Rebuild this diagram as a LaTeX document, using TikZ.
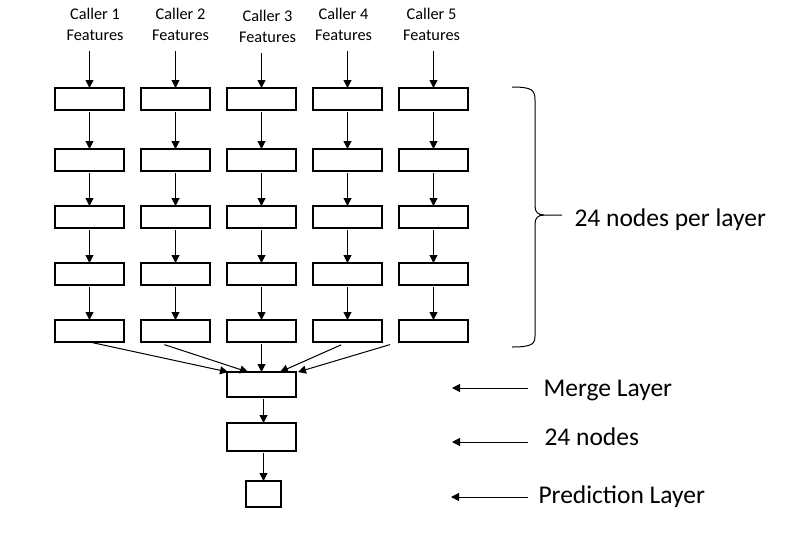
\documentclass[tikz,border=0pt]{standalone}
\usepackage{fontspec}
\setmainfont{Carlito}
\usetikzlibrary{positioning,arrows.meta}
\tikzset{
  unit/.style={draw,line width=1.2pt,minimum width=69pt,minimum height=22pt,inner sep=0pt,outer sep=0pt},
  feat/.style={align=center,font=\fontsize{16.3}{21}\selectfont,inner xsep=0pt,inner ysep=8pt},
  note/.style={font=\fontsize{25.5}{30}\selectfont,inner sep=0pt,anchor=base west},
  >={Triangle[length=8pt,width=8pt]},
}

\begin{document}
\begin{tikzpicture}[
  x=1pt,y=-1pt,
  ->,line width=1pt,shorten <=2pt,
  node distance=35pt and 17pt
]
\useasboundingbox (0,0) rectangle (812,550);

% five caller columns
\node[unit] (c1r1) at (89.5,99) {};
\node[unit,right=of c1r1] (c2r1) {};
\node[unit,right=of c2r1] (c3r1) {};
\node[unit,right=of c3r1] (c4r1) {};
\node[unit,right=of c4r1] (c5r1) {};

\node[unit,below=39pt of c1r1] (c1r2) {};
\node[unit,below=39pt of c2r1] (c2r2) {};
\node[unit,below=39pt of c3r1] (c3r2) {};
\node[unit,below=39pt of c4r1] (c4r2) {};
\node[unit,below=39pt of c5r1] (c5r2) {};

\node[unit,below=of c1r2] (c1r3) {};
\node[unit,below=of c2r2] (c2r3) {};
\node[unit,below=of c3r2] (c3r3) {};
\node[unit,below=of c4r2] (c4r3) {};
\node[unit,below=of c5r2] (c5r3) {};

\node[unit,below=of c1r3] (c1r4) {};
\node[unit,below=of c2r3] (c2r4) {};
\node[unit,below=of c3r3] (c3r4) {};
\node[unit,below=of c4r3] (c4r4) {};
\node[unit,below=of c5r3] (c5r4) {};

\node[unit,below=of c1r4] (c1r5) {};
\node[unit,below=of c2r4] (c2r5) {};
\node[unit,below=of c3r4] (c3r5) {};
\node[unit,below=of c4r4] (c4r5) {};
\node[unit,below=of c5r4] (c5r5) {};

\node[feat,above=39pt of c1r1,xshift=5.5pt] (f1) {Caller 1\\Features};
\node[feat,above=39pt of c2r1,xshift=5pt] (f2) {Caller 2\\Features};
\node[feat,above=39pt of c3r1,xshift=6pt,yshift=-2pt] (f3) {Caller 3\\Features};
\node[feat,above=39pt of c4r1,xshift=-4pt] (f4) {Caller 4\\Features};
\node[feat,above=39pt of c5r1,xshift=-2pt] (f5) {Caller 5\\Features};

% merge and output
\node[unit,minimum height=25pt,below=30pt of c3r5] (merge) {};
\node[unit,minimum height=28pt,below=26pt of merge] (hidden) {};
\node[unit,minimum width=35pt,minimum height=26pt,below=30pt of hidden,xshift=2pt] (pred) {};

\path
(f1.south -| c1r1) edge (c1r1)
(f2.south -| c2r1) edge (c2r1)
(f3.south -| c3r1) edge (c3r1)
(f4.south -| c4r1) edge (c4r1)
(f5.south -| c5r1) edge (c5r1)

(c1r1) edge (c1r2) (c1r2) edge (c1r3) (c1r3) edge (c1r4) (c1r4) edge (c1r5)
(c2r1) edge (c2r2) (c2r2) edge (c2r3) (c2r3) edge (c2r4) (c2r4) edge (c2r5)
(c3r1) edge (c3r2) (c3r2) edge (c3r3) (c3r3) edge (c3r4) (c3r4) edge (c3r5)
(c4r1) edge (c4r2) (c4r2) edge (c4r3) (c4r3) edge (c4r4) (c4r4) edge (c4r5)
(c5r1) edge (c5r2) (c5r2) edge (c5r3) (c5r3) edge (c5r4) (c5r4) edge (c5r5)

(c1r5.south) edge ([xshift=1pt]merge.north west)
([xshift=-13pt,yshift=-2pt]c2r5.south) edge ([xshift=-13.5pt]merge.north)
(c3r5) edge (merge)
([xshift=-4.5pt,yshift=-2pt]c4r5.south) edge ([xshift=18.5pt]merge.north)
([xshift=-41.5pt,yshift=-2pt]c5r5.south) edge ([xshift=2pt]merge.north east)

(merge.south -| pred) edge (hidden.north -| pred)
(hidden.south -| pred) edge (pred);

% brace and side notes
\draw[-,shorten <=0pt] (512,87) .. controls (532,87) and (535,90) .. (535,100) -- (535,206)
  .. controls (535,212) and (538,215) .. (544,215) -- (562,215);
\draw[-,shorten <=0pt] (544,215) .. controls (538,215) and (535,218) .. (535,224) -- (535,336)
  .. controls (535,344) and (532,347) .. (512,347);
\node[note] (layertxt) at (574,226) {24 nodes per layer};

\node[note] (mergetxt) at (543,396) {Merge Layer};
\node[note] (hidtxt) at (544,445) {24 nodes};
\node[note] (predtxt) at (538,503) {Prediction Layer};

\coordinate (m0) at (530,388);
\coordinate (m1) at (452,388);
\coordinate (h0) at (530,442);
\coordinate (h1) at (452,442);
\coordinate (p0) at (530,497);
\coordinate (p1) at (451,497);
\path (m0) edge (m1) (h0) edge (h1) (p0) edge (p1);

\end{tikzpicture}
\end{document}
